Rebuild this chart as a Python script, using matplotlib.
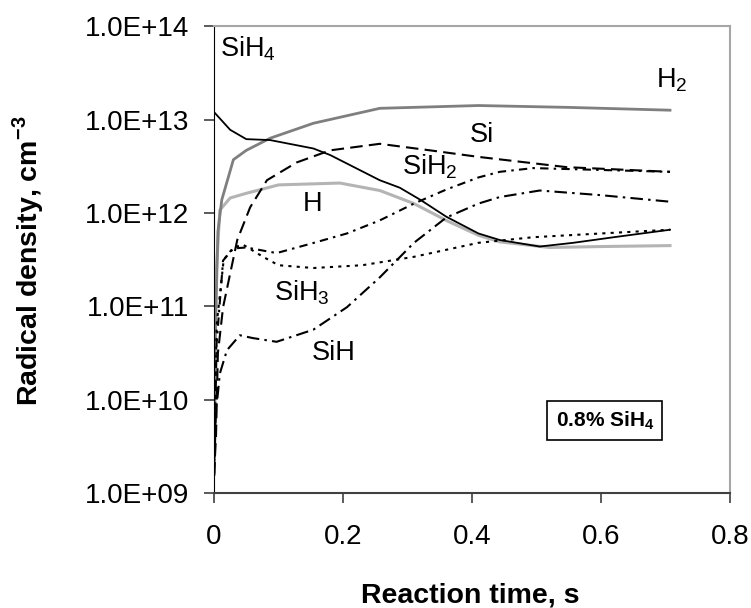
import matplotlib
matplotlib.use('Agg')
import matplotlib.pyplot as plt
import numpy as np
from matplotlib.ticker import FuncFormatter, NullLocator

plt.rcParams['font.family'] = ['Liberation Sans', 'DejaVu Sans']
plt.rcParams['mathtext.fontset'] = 'custom'
plt.rcParams['mathtext.rm'] = 'Liberation Sans'
plt.rcParams['mathtext.bf'] = 'Liberation Sans:bold'

# data: time (s) and log10 of density (cm^-3)
t_h2 = [0, 0.002, 0.006, 0.012, 0.03, 0.05, 0.087, 0.154, 0.257, 0.41, 0.55, 0.707]
log_h2 = [9.2, 10.7, 11.8, 12.14, 12.57, 12.67, 12.80, 12.96, 13.12, 13.15, 13.13, 13.10]

t_sih4 = [0, 0.025, 0.05, 0.087, 0.154, 0.18, 0.257, 0.288, 0.32, 0.36, 0.41, 0.443, 0.505, 0.557, 0.62, 0.707]
log_sih4 = [13.08, 12.89, 12.79, 12.78, 12.69, 12.62, 12.35, 12.27, 12.14, 11.96, 11.78, 11.71, 11.64, 11.68, 11.74, 11.82]

t_h = [0, 0.003, 0.009, 0.025, 0.05, 0.1, 0.195, 0.257, 0.31, 0.36, 0.41, 0.443, 0.52, 0.6, 0.707]
log_h = [9.2, 11.3, 12.03, 12.16, 12.21, 12.30, 12.32, 12.24, 12.10, 11.92, 11.76, 11.69, 11.63, 11.64, 11.65]

t_si = [0, 0.003, 0.006, 0.014, 0.036, 0.056, 0.082, 0.128, 0.18, 0.257, 0.335, 0.41, 0.547, 0.707]
log_si = [9.2, 9.6, 10.5, 10.99, 11.71, 12.06, 12.35, 12.54, 12.67, 12.74, 12.67, 12.60, 12.49, 12.44]

t_sih2 = [0, 0.004, 0.014, 0.03, 0.05, 0.097, 0.155, 0.206, 0.257, 0.31, 0.36, 0.41, 0.443, 0.495, 0.6, 0.707]
log_sih2 = [9.2, 10.6, 11.49, 11.62, 11.63, 11.57, 11.68, 11.78, 11.92, 12.10, 12.25, 12.38, 12.44, 12.48, 12.46, 12.44]

t_sih3 = [0, 0.004, 0.015, 0.03, 0.045, 0.076, 0.1, 0.154, 0.23, 0.31, 0.41, 0.495, 0.6, 0.707]
log_sih3 = [9.2, 10.8, 11.5, 11.63, 11.66, 11.53, 11.44, 11.41, 11.44, 11.53, 11.68, 11.74, 11.78, 11.82]

t_sih = [0, 0.003, 0.009, 0.02, 0.04, 0.06, 0.097, 0.154, 0.206, 0.257, 0.31, 0.36, 0.41, 0.443, 0.505, 0.6, 0.707]
log_sih = [9.2, 9.86, 10.28, 10.53, 10.69, 10.66, 10.62, 10.75, 10.99, 11.31, 11.68, 11.95, 12.10, 12.17, 12.24, 12.19, 12.12]

fig = plt.figure(figsize=(7.51, 6.08), dpi=100)
ax = fig.add_axes([0.285, 0.189, 0.687, 0.768])

def dens(v):
    return 10 ** np.array(v)

ax.plot(t_h, dens(log_h), color='#b4b4b4', lw=2.2)
ax.plot(t_h2, dens(log_h2), color='#7f7f7f', lw=2.0)
ax.plot(t_sih4, dens(log_sih4), color='black', lw=1.3)
ax.plot(t_si, dens(log_si), color='black', lw=1.5, linestyle=(0, (6, 3)))
ax.plot(t_sih2, dens(log_sih2), color='black', lw=1.5, linestyle=(0, (4, 2.5, 1.2, 2.5)))
ax.plot(t_sih3, dens(log_sih3), color='black', lw=1.5, linestyle=(0, (1.5, 2.5)))
ax.plot(t_sih, dens(log_sih), color='black', lw=1.5, linestyle=(0, (6, 2.5, 1.2, 2.5)))

ax.set_yscale('log')
ax.set_ylim(1e9, 1e14)
ax.set_xlim(0, 0.8)
ax.set_xticks([0, 0.2, 0.4, 0.6, 0.8])
ax.set_xticklabels(['0', '0.2', '0.4', '0.6', '0.8'])
ax.set_yticks([1e9, 1e10, 1e11, 1e12, 1e13, 1e14])
ax.yaxis.set_major_formatter(FuncFormatter(lambda v, p: '1.0E+%02d' % round(np.log10(v))))
ax.yaxis.set_minor_locator(NullLocator())

for s in ['top', 'right']:
    ax.spines[s].set_color('#a6a6a6')
    ax.spines[s].set_linewidth(1.5)
ax.spines['left'].set_color('black')
ax.spines['bottom'].set_color('#404040')
ax.spines['bottom'].set_linewidth(1.5)
ax.tick_params(axis='both', direction='out', length=7, width=1.2, labelsize=20, colors='#404040', labelcolor='black')
ax.tick_params(axis='y', pad=11)
ax.tick_params(axis='x', pad=15)

ax.set_xlabel('Reaction time, s', fontsize=20.5, fontweight='bold', va='center')
ax.set_ylabel(r'Radical density, cm$^\mathbf{-3}$', fontsize=20.5, fontweight='bold', va='center')
ax.xaxis.set_label_coords(0.496, -0.22)
ax.yaxis.set_label_coords(-0.36, 0.497)

lab = dict(fontsize=19.5, ha='center', va='center')
ax.text(0.053, 10 ** 13.76, r'SiH$_\mathregular{4}$', **lab)
ax.text(0.71, 10 ** 13.42, r'H$_\mathregular{2}$', **lab)
ax.text(0.415, 10 ** 12.83, 'Si', **lab)
ax.text(0.335, 10 ** 12.49, r'SiH$_\mathregular{2}$', **lab)
ax.text(0.153, 10 ** 12.10, 'H', **lab)
ax.text(0.136, 10 ** 11.15, r'SiH$_\mathregular{3}$', **lab)
ax.text(0.186, 10 ** 10.50, 'SiH', **lab)
ax.text(0.606, 10 ** 9.78, r'0.8% SiH$_\mathbf{4}$', fontsize=15, fontweight='bold', ha='center', va='center',
        bbox=dict(boxstyle='square,pad=0.4', facecolor='white', edgecolor='black', linewidth=1.2))

fig.savefig('out.png', dpi=100)
